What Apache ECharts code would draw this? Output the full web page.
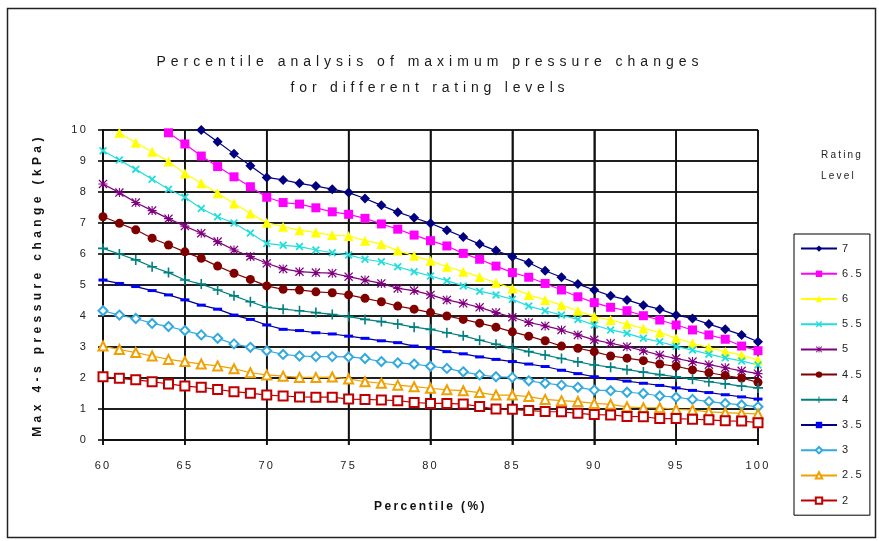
<!DOCTYPE html>
<html><head><meta charset="utf-8">
<script src="https://cdn.jsdelivr.net/npm/echarts@6/dist/echarts.min.js"></script>
<style>
html,body{margin:0;padding:0;background:#fff;}
#chart{width:879px;height:541px;}
</style></head><body><div id="chart"></div>
<script>
const percentiles = [60,61,62,63,64,65,66,67,68,69,70,71,72,73,74,75,76,77,78,79,80,81,82,83,84,85,86,87,88,89,90,91,92,93,94,95,96,97,98,99,100];
const ratingLevels = ['7','6.5','6','5.5','5','4.5','4','3.5','3','2.5','2'];
const yTicks = [0,1,2,3,4,5,6,7,8,9,10];
const xTicks = [60,65,70,75,80,85,90,95,100];

const r7 = [null,null,null,null,null,null,10.0,9.62,9.23,8.85,8.47,8.39,8.28,8.19,8.09,7.98,7.79,7.57,7.35,7.17,6.99,6.77,6.55,6.32,6.11,5.91,5.72,5.46,5.25,5.03,4.84,4.65,4.52,4.35,4.22,4.03,3.92,3.74,3.57,3.39,3.17];
const r65 = [null,null,null,null,9.91,9.55,9.16,8.82,8.49,8.17,7.83,7.66,7.61,7.49,7.36,7.28,7.15,6.97,6.80,6.61,6.43,6.26,6.02,5.83,5.61,5.40,5.25,5.05,4.84,4.62,4.43,4.28,4.17,4.01,3.87,3.71,3.55,3.39,3.25,3.03,2.88];
const r6 = [null,9.91,9.59,9.30,8.98,8.60,8.28,7.96,7.63,7.31,7.01,6.88,6.77,6.69,6.61,6.58,6.43,6.32,6.11,5.94,5.78,5.59,5.43,5.26,5.07,4.89,4.68,4.52,4.35,4.17,3.98,3.87,3.74,3.60,3.47,3.28,3.12,2.98,2.85,2.74,2.58];
const r55 = [9.33,9.03,8.73,8.41,8.09,7.83,7.47,7.20,7.00,6.68,6.34,6.28,6.24,6.13,6.04,5.97,5.83,5.75,5.59,5.43,5.29,5.14,4.97,4.80,4.68,4.54,4.32,4.17,4.03,3.89,3.71,3.55,3.44,3.28,3.17,3.02,2.90,2.77,2.65,2.55,2.42];
const r5 = [8.26,7.98,7.66,7.40,7.14,6.90,6.67,6.40,6.13,5.92,5.70,5.52,5.43,5.40,5.38,5.27,5.16,5.05,4.89,4.82,4.68,4.52,4.41,4.28,4.11,3.96,3.79,3.68,3.55,3.39,3.23,3.12,3.01,2.88,2.74,2.63,2.53,2.43,2.33,2.23,2.14];
const r45 = [7.20,6.99,6.78,6.51,6.29,6.07,5.86,5.61,5.38,5.18,4.97,4.86,4.84,4.78,4.75,4.68,4.57,4.46,4.32,4.22,4.11,4.00,3.89,3.77,3.64,3.49,3.35,3.20,3.03,2.96,2.85,2.71,2.64,2.56,2.45,2.38,2.26,2.17,2.08,2.00,1.86];
const r4 = [6.18,6.00,5.81,5.59,5.40,5.16,5.03,4.84,4.65,4.46,4.28,4.22,4.17,4.11,4.05,3.98,3.89,3.82,3.74,3.64,3.57,3.46,3.36,3.22,3.09,2.97,2.85,2.74,2.63,2.52,2.42,2.35,2.27,2.19,2.11,2.04,1.96,1.88,1.81,1.74,1.68];
const r35 = [5.16,5.05,4.95,4.82,4.68,4.52,4.35,4.22,4.03,3.89,3.71,3.57,3.53,3.46,3.42,3.35,3.28,3.20,3.14,3.03,2.96,2.85,2.78,2.68,2.60,2.53,2.45,2.37,2.25,2.14,2.04,1.98,1.90,1.83,1.76,1.68,1.60,1.53,1.46,1.39,1.32];
const r3 = [4.17,4.03,3.92,3.76,3.66,3.53,3.39,3.28,3.10,2.99,2.88,2.76,2.71,2.69,2.69,2.68,2.63,2.53,2.49,2.45,2.38,2.31,2.20,2.10,2.04,2.02,1.91,1.83,1.77,1.70,1.61,1.59,1.54,1.50,1.42,1.38,1.31,1.24,1.18,1.13,1.07];
const r25 = [3.03,2.92,2.82,2.71,2.60,2.53,2.45,2.39,2.30,2.17,2.10,2.06,2.02,2.02,2.03,1.97,1.88,1.83,1.77,1.72,1.67,1.62,1.59,1.53,1.45,1.45,1.40,1.31,1.27,1.24,1.18,1.15,1.07,1.04,1.04,0.99,0.97,0.91,0.88,0.86,0.84];
const r2 = [2.04,1.99,1.94,1.88,1.81,1.74,1.70,1.63,1.56,1.51,1.45,1.42,1.39,1.38,1.38,1.32,1.31,1.29,1.27,1.21,1.18,1.18,1.16,1.08,1.00,0.99,0.95,0.92,0.91,0.86,0.82,0.81,0.76,0.75,0.69,0.69,0.67,0.65,0.62,0.61,0.56];

const seriesValues = [r7,r65,r6,r55,r5,r45,r4,r35,r3,r25,r2];

const TITLE_1 = 'Percentile analysis of maximum pressure changes';
const TITLE_2 = 'for different rating levels';
const LEGEND_TITLE_1 = 'Rating';
const LEGEND_TITLE_2 = 'Level';
const Y_NAME = 'Max 4-s pressure change (kPa)';
const X_NAME = 'Percentile (%)';

// Excel-style widened letter spacing for canvas text
(function () {
  const spacing = {};
  spacing[TITLE_1] = 5.0; spacing[TITLE_2] = 4.8;
  spacing[Y_NAME] = 4.4; spacing[X_NAME] = 2.4;
  const P = CanvasRenderingContext2D.prototype;
  if (!('letterSpacing' in P)) return;
  ['fillText', 'strokeText', 'measureText'].forEach(fn => {
    const orig = P[fn];
    P[fn] = function (t) {
      const prev = this.letterSpacing;
      const s = String(t);
      this.letterSpacing = ((s in spacing) ? spacing[s] : 2.2) + 'px';
      const r = orig.apply(this, arguments);
      this.letterSpacing = prev;
      return r;
    };
  });
})();

const X_PATH = 'path://M0,1.6L1.6,0L5,3.4L8.4,0L10,1.6L6.6,5L10,8.4L8.4,10L5,6.6L1.6,10L0,8.4L3.4,5Z';
const PLUS_PATH = 'path://M4.2,0H5.8V4.2H10V5.8H5.8V10H4.2V5.8H0V4.2H4.2Z';
const STAR_PATH = 'path://M4.4,0H5.6V4.4H10V5.6H5.6V10H4.4V5.6H0V4.4H4.4Z M1,0L5,4L9,0L10,1L6,5L10,9L9,10L5,6L1,10L0,9L4,5L0,1Z';

const styles = [
  {line:'#000080', mark:'#000080', symbol:'diamond', size:10},
  {line:'#FF00FF', mark:'#FF00FF', symbol:'rect', size:9},
  {line:'#FFFF00', mark:'#FFFF00', symbol:'triangle', size:10},
  {line:'#22DDDD', mark:'#22DDDD', symbol:X_PATH, size:8},
  {line:'#800080', mark:'#800080', symbol:STAR_PATH, size:9},
  {line:'#800000', mark:'#800000', symbol:'circle', size:9},
  {line:'#008080', mark:'#008080', symbol:PLUS_PATH, size:10},
  {line:'#000080', mark:'#0000FF', symbol:'rect', size:[9,3]},
  {line:'#33AADD', mark:'#33AADD', symbol:'emptyDiamond', size:9},
  {line:'#F0A000', mark:'#F0A000', symbol:'emptyTriangle', size:9},
  {line:'#C00000', mark:'#C00000', symbol:'emptyRect', size:9}
];

const FONT = '"Liberation Sans", Arial, sans-serif';
const X_MIN = 60, X_MAX = 100, Y_MIN = 0, Y_MAX = 10;
const TICK_OUT_X = 0.3;   // tick length beyond the y axis, in x units (~5px)
const TICK_OUT_Y = 0.16;  // tick length below the x axis, in y units (~5px)

function buildSeries() {
  return ratingLevels.map((name, i) => {
    const st = styles[i];
    const empty = typeof st.symbol === 'string' && st.symbol.indexOf('empty') === 0;
    return {
      name: name,
      type: 'line',
      data: percentiles.map((p, j) => [p, seriesValues[i][j]]),
      symbol: st.symbol,
      symbolSize: st.size,
      showAllSymbol: true,
      connectNulls: false,
      lineStyle: {color: st.line, width: 1.2},
      itemStyle: empty ? {color: st.mark, borderColor: st.mark, borderWidth: 1.2}
                       : {color: st.mark, borderWidth: 0},
      emphasis: {disabled: true},
      z: 3
    };
  });
}

// Grid lines (with outside tick stubs) drawn as plain line series on the chart's own scales
function buildGridSeries() {
  const common = {type: 'line', symbol: 'none', silent: true, clip: false, z: 1,
    lineStyle: {color: '#111', width: 1.6}, emphasis: {disabled: true}, tooltip: {show: false}};
  const hs = yTicks.map(v => Object.assign({}, common, {name: 'gy' + v, data: [[X_MIN - TICK_OUT_X, v], [X_MAX, v]]}));
  const vs = xTicks.map(v => Object.assign({}, common, {name: 'gx' + v, data: [[v, Y_MIN - TICK_OUT_Y], [v, Y_MAX]]}));
  return hs.concat(vs);
}

function buildAxis(isX) {
  const a = {
    type: 'value', min: isX ? X_MIN : Y_MIN, max: isX ? X_MAX : Y_MAX, interval: isX ? 5 : 1,
    name: isX ? X_NAME : Y_NAME, nameLocation: 'middle', nameGap: isX ? 60 : 58,
    nameTextStyle: {fontSize: 12, fontWeight: 'bold', color: '#111', fontFamily: FONT},
    axisLine: {show: true, onZero: false, lineStyle: {color: '#000', width: 1.5}},
    axisTick: {show: true, inside: false, length: 5, lineStyle: {color: '#000', width: 1.5}},
    axisLabel: {fontSize: 11, color: '#222', margin: isX ? 19 : 15,
      formatter: isX ? (v => xTicks.includes(v) ? String(v) : '') : (v => yTicks.includes(v) ? String(v) : '')},
    splitLine: {show: true, lineStyle: {color: '#111', width: 1.6, type: 'solid'}}
  };
  if (!isX) a.nameRotate = 90;
  return a;
}

const titleText = (text, left, top, size, align) => ({
  text: text, left: left, top: top, padding: 0, textAlign: align,
  textStyle: {fontSize: size, fontWeight: 'normal', color: size > 12 ? '#1a1a1a' : '#222', fontFamily: FONT}
});

const option = {
  animation: false,
  backgroundColor: '#ffffff',
  textStyle: {fontFamily: FONT},
  title: [
    titleText(TITLE_1, 430, 54, 14, 'center'),
    titleText(TITLE_2, 430, 80, 14, 'center'),
    titleText(LEGEND_TITLE_1, 821, 149, 10, 'left'),
    titleText(LEGEND_TITLE_2, 821, 170, 10, 'left')
  ],
  grid: {left: 103, right: 121, top: 130, bottom: 101, containLabel: false},
  xAxis: buildAxis(true),
  yAxis: buildAxis(false),
  series: buildGridSeries().concat(buildSeries()),
  legend: {
    orient: 'vertical', left: 794, top: 234,
    itemWidth: 36, itemHeight: 8, itemGap: 12,
    borderColor: '#000', borderWidth: 1, padding: [8, 6, 8, 6],
    textStyle: {fontSize: 11, color: '#222', fontFamily: FONT},
    data: ratingLevels
  },
  graphic: [
    {type: 'rect', left: 5, top: 6, silent: true, z: -10,
     shape: {width: 868, height: 529}, style: {fill: 'none', stroke: '#222', lineWidth: 1.5}}
  ]
};

const chart = echarts.init(document.getElementById('chart'));
chart.setOption(option);
</script></body></html>
